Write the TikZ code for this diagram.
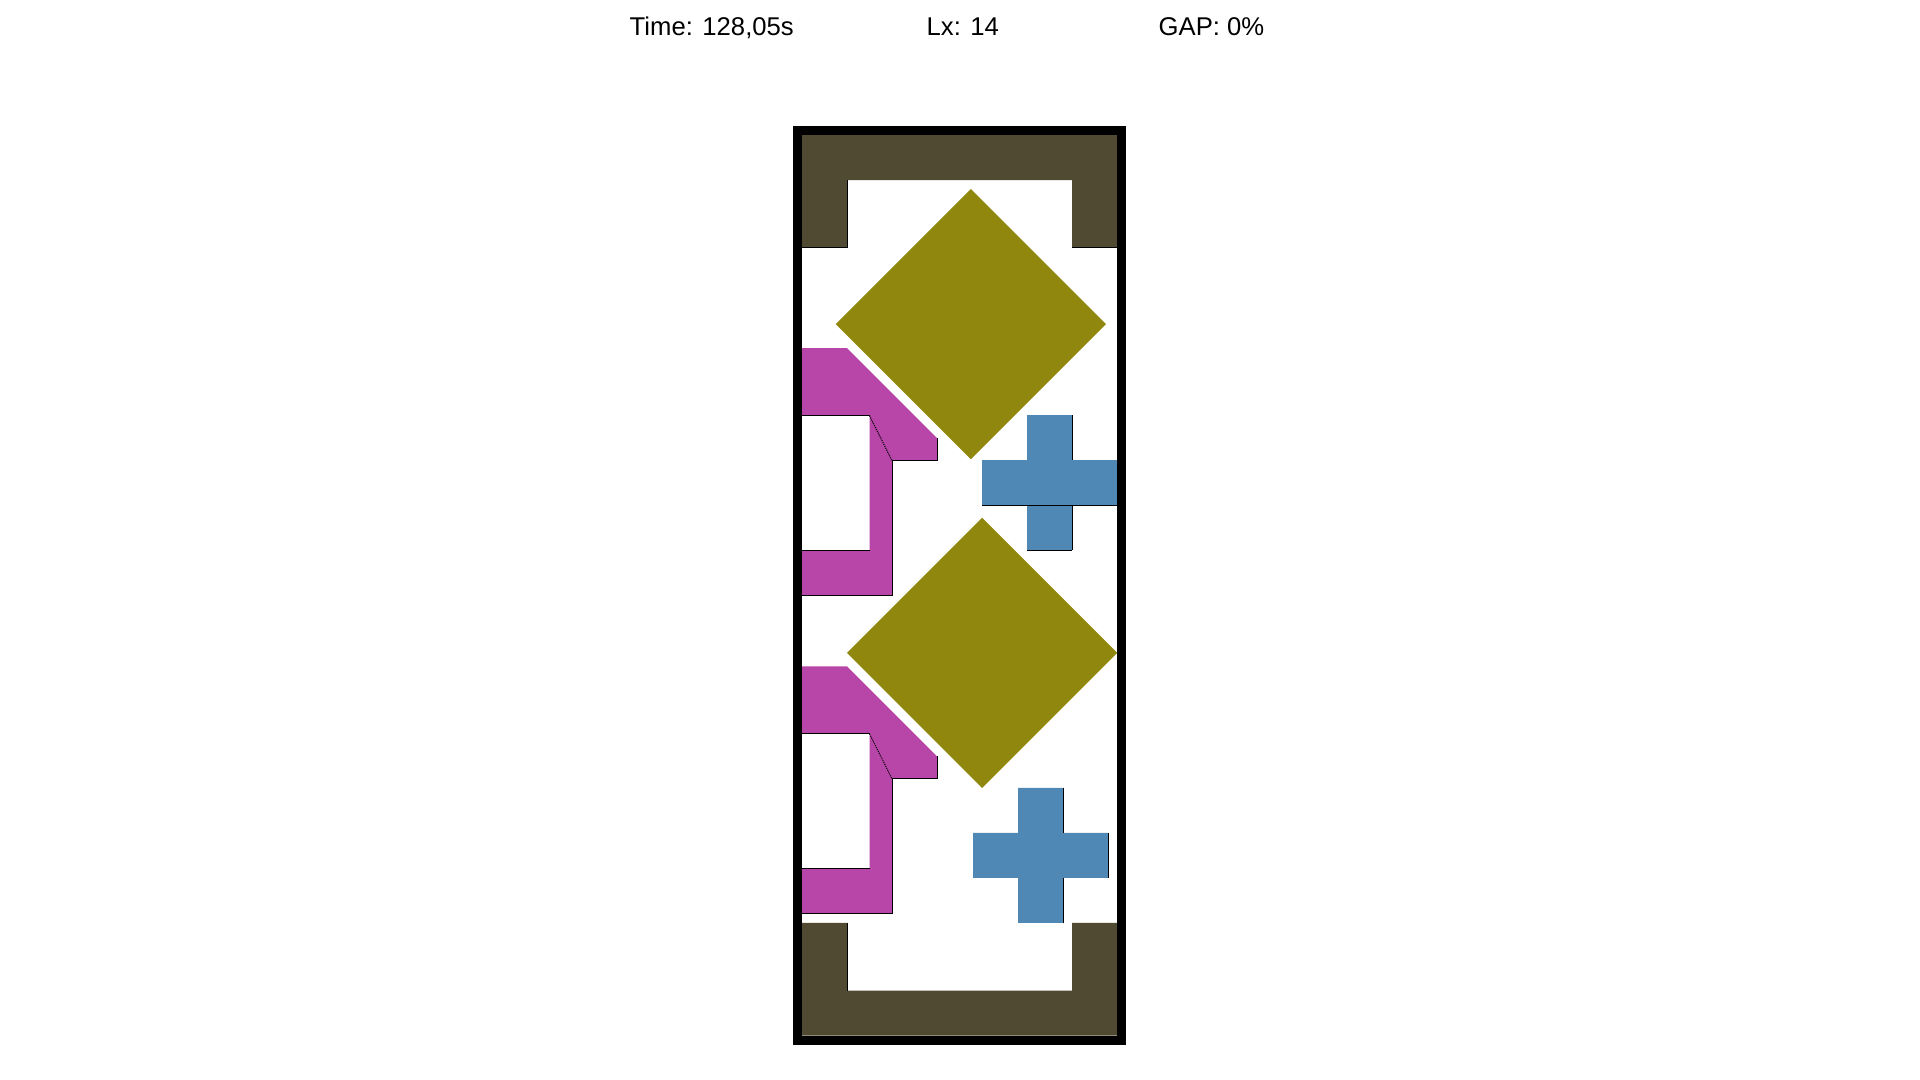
\documentclass[tikz,border=0pt]{standalone}
\usepackage{fontspec}
\setmainfont{Liberation Sans}
\usepackage{xcolor}
\usetikzlibrary{positioning}
\definecolor{stripWall}{HTML}{504A33}
\definecolor{pieceOlive}{HTML}{8F870E}
\definecolor{pieceMagenta}{HTML}{B845A8}
\definecolor{pieceBlue}{HTML}{4F87B5}

\begin{document}
\begin{tikzpicture}[x=0.01cm,y=-0.01cm, every node/.style={font=\fontsize{7.3}{8.8}\selectfont, inner sep=0pt}]
    \useasboundingbox (0,0) rectangle (1920,1080);
    % header
    \node[anchor=base west] (timeLabel) at (629,36) {Time: 128,05s};
    \node[anchor=base west] (lxLabel) at (926,36) {Lx: 14};
    \node[anchor=base west] (gapLabel) at (1158,36) {GAP: 0\%};
    % strip, one unit = 22.5px
    \begin{scope}[shift={(802,135)}, x=0.225cm, y=-0.225cm, rimline/.style={line width=0.3pt}]
      % walls
      \fill[stripWall] (0,0) -- (14,0) -- (14,5) -- (12,5) -- (12,2) -- (2,2) -- (2,5) -- (0,5) -- cycle;
      \fill[stripWall] (0,40) -- (14,40) -- (14,35) -- (12,35) -- (12,38) -- (2,38) -- (2,35) -- (0,35) -- cycle;
      \draw[rimline] (0,5) -- (2,5) -- (2,2);
      \draw[rimline] (12,5) -- (14,5);
      \draw[rimline] (2,35) -- (2,38);
      % diamonds
      \fill[pieceOlive] (7.5,2.4) -- (13.5,8.4) -- (7.5,14.4) -- (1.5,8.4) -- cycle;
      \fill[pieceOlive] (8,17) -- (14,23) -- (8,29) -- (2,23) -- cycle;
      % hooks
      \foreach \t in {9.47,23.6} {
        \fill[pieceMagenta] (0,\t) -- (2,\t) -- (6,\t+4) -- (6,\t+5) -- (4,\t+5) -- (4,\t+11) -- (0,\t+11)
          -- (0,\t+9) -- (3,\t+9) -- (3,\t+3) -- (0,\t+3) -- cycle;
        \draw[rimline] (6,\t+4) -- (6,\t+5) -- (4,\t+5) -- (4,\t+11) -- (0,\t+11);
        \draw[rimline] (0,\t+9) -- (3,\t+9);
        \draw[rimline] (0,\t+3) -- (3,\t+3);
        \draw[rimline, dash pattern=on 0.3pt off 0.3pt] (3,\t+3) -- (4,\t+5);
      }
      % crosses
      \foreach \a/\b in {8/12.44,7.6/29} {
        \fill[pieceBlue] (\a+2,\b) -- (\a+4,\b) -- (\a+4,\b+2) -- (\a+6,\b+2) -- (\a+6,\b+4) -- (\a+4,\b+4)
          -- (\a+4,\b+6) -- (\a+2,\b+6) -- (\a+2,\b+4) -- (\a,\b+4) -- (\a,\b+2) -- (\a+2,\b+2) -- cycle;
        \draw[rimline] (\a+4,\b) -- (\a+4,\b+2);
        \draw[rimline] (\a+6,\b+2) -- (\a+6,\b+4);
        \draw[rimline] (\a+4,\b+4) -- (\a+4,\b+6);
      }
      \draw[rimline] (8,16.44) -- (14,16.44);
      \draw[rimline] (10,18.44) -- (12,18.44);
      % frame
      \draw[line width=0.09cm] (-0.2,-0.2) rectangle (14.2,40.2);
    \end{scope}
  \end{tikzpicture}
\end{document}
